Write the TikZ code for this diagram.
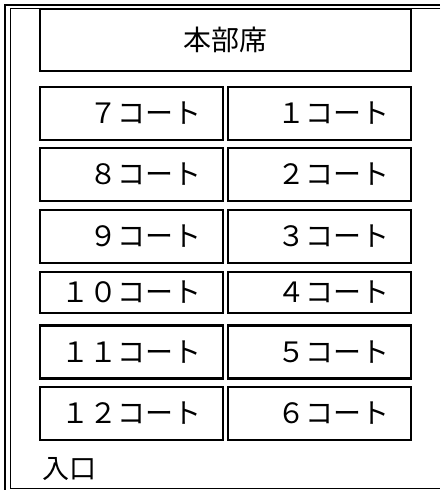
\documentclass[tikz,border=0pt]{standalone}
\usepackage{fontspec}
\setmainfont{Noto Sans CJK JP}
\usetikzlibrary{positioning}

\begin{document}
\begin{tikzpicture}[x=0.5pt,y=-0.5pt,node distance=2.5pt,
    court/.style={draw,line width=1.2pt,inner sep=0pt,outer sep=0pt,
      minimum width=91.5pt,minimum height=26.5pt,
      font=\fontsize{14}{16}\selectfont}]
  \useasboundingbox (0,0) rectangle (440,490);
  % frame
  \draw[line width=0.9pt] (5,490) -- (5,5) -- (440,5);
  \draw[line width=0.5pt] (440,9) -- (10,9) -- (10,488) -- (440,488);
  \node[court,minimum width=185.5pt,minimum height=31pt] (hq) at (225.5,40) {本部席};
  \node[court] (c7) at (131.5,113.5) {　７コート};
  \node[court] (c1) [right=of c7] {　１コート};
  \node[court] (c8) at (131.5,174.5) {　８コート};
  \node[court] (c2) [right=of c8] {　２コート};
  \node[court] (c9) at (131.5,236.5) {　９コート};
  \node[court] (c3) [right=of c9] {　３コート};
  \node[court,minimum height=20.5pt] (c10) at (131.5,292.5) {１０コート};
  \node[court,minimum height=20.5pt] (c4) [right=of c10] {　４コート};
  \node[court] (c11) at (131.5,352) {１１コート};
  \node[court] (c5) [right=of c11] {　５コート};
  \node[court] (c12) at (131.5,413.5) {１２コート};
  \node[court] (c6) [right=of c12] {　６コート};
  \node[anchor=west,inner sep=0pt,font=\fontsize{13.5}{16}\selectfont] (entrance) at (42,469) {入口};
\end{tikzpicture}
\end{document}
